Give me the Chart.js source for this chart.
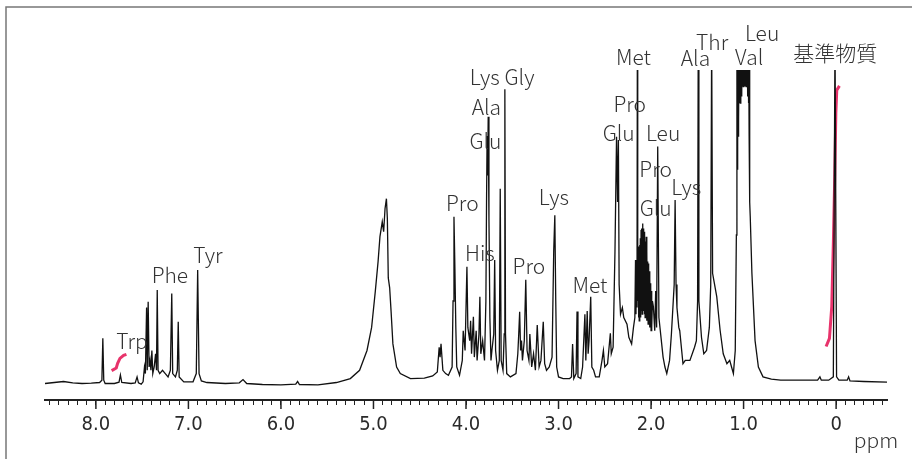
<!DOCTYPE html>
<html>
<head>
<meta charset="utf-8">
<script src="https://cdn.jsdelivr.net/npm/chart.js@4.4.1/dist/chart.umd.min.js"></script>
<style>
  html, body { margin: 0; padding: 0; background: #fff; }
  #wrap { width: 912px; height: 459px; }
</style>
</head>
<body>
<div id="wrap"><canvas id="nmr" width="912" height="459"></canvas></div>
<script>
// [ppm, intensity], left to right
const aromatic = [
  [8.55, 5.0], [8.45, 5.3], [8.35, 5.6], [8.25, 5.2], [8.15, 5.0], [8.05, 5.1],
  [7.96, 5.3], [7.935, 6], [7.925, 18.7], [7.915, 6], [7.9, 5.0], [7.8, 5.0],
  [7.75, 5.4], [7.735, 7.6], [7.72, 5.3], [7.62, 5.0], [7.575, 5.2], [7.555, 7],
  [7.54, 5.2], [7.51, 4.8], [7.49, 5.5], [7.475, 10], [7.465, 8], [7.452, 28],
  [7.445, 9], [7.435, 29.8], [7.425, 10], [7.415, 12], [7.405, 9], [7.395, 15],
  [7.385, 8], [7.37, 10], [7.355, 14], [7.345, 9], [7.337, 33.3], [7.328, 9],
  [7.31, 8], [7.28, 9], [7.25, 8], [7.22, 7], [7.195, 9], [7.18, 32.3],
  [7.17, 8], [7.14, 7], [7.12, 9], [7.11, 23.7], [7.1, 7], [7.05, 5.5],
  [6.95, 5.5], [6.915, 8], [6.9, 39.4], [6.885, 8], [6.86, 5.8], [6.8, 5.3],
  [6.6, 5.0], [6.45, 5.2], [6.41, 6.2], [6.37, 5.0], [6.2, 4.7], [6.0, 4.6],
  [5.84, 4.8], [5.82, 5.6], [5.8, 4.7], [5.6, 4.6]
];
const water = [
  [5.4, 5.3], [5.25, 6.5], [5.15, 9], [5.07, 15], [5.02, 22], [4.98, 33],
  [4.95, 42], [4.93, 49.5], [4.905, 54], [4.89, 51], [4.875, 58], [4.86, 61],
  [4.85, 55], [4.84, 37], [4.825, 34], [4.81, 27], [4.79, 17], [4.75, 10],
  [4.71, 8], [4.6, 6.5], [4.45, 6.6], [4.36, 7.3]
];
const aliphatic = [
  [4.31, 8.5], [4.29, 16], [4.28, 13], [4.27, 17], [4.25, 9], [4.22, 8],
  [4.19, 7.5], [4.15, 10], [4.14, 30], [4.13, 55.5], [4.12, 40], [4.11, 22],
  [4.1, 10], [4.07, 7.5], [4.04, 12], [4.03, 21], [4.01, 15], [3.99, 40.4],
  [3.98, 22], [3.96, 18], [3.95, 24], [3.94, 14], [3.92, 25.2], [3.91, 13],
  [3.89, 21], [3.88, 12], [3.86, 20], [3.85, 31.3], [3.84, 14], [3.82, 18],
  [3.8, 12], [3.785, 30], [3.778, 60], [3.772, 80], [3.766, 68], [3.76, 85.8],
  [3.752, 55], [3.742, 25], [3.73, 12], [3.72, 15], [3.7, 20], [3.69, 42.4],
  [3.68, 15], [3.66, 9], [3.64, 12], [3.63, 64], [3.62, 12], [3.6, 9],
  [3.587, 20], [3.58, 94.2], [3.573, 20], [3.56, 8], [3.52, 7], [3.46, 8],
  [3.44, 14], [3.43, 20], [3.42, 26.7], [3.41, 15], [3.4, 18], [3.39, 12],
  [3.37, 18], [3.354, 36.4], [3.34, 15], [3.32, 12], [3.31, 20], [3.29, 10],
  [3.27, 14], [3.25, 9], [3.23, 22.7], [3.21, 10], [3.19, 12], [3.165, 23.7],
  [3.15, 11], [3.13, 9], [3.1, 10], [3.07, 13], [3.052, 45], [3.04, 56],
  [3.03, 30], [3.02, 10], [3.0, 7], [2.95, 6.5], [2.88, 6.5], [2.86, 7],
  [2.848, 17], [2.835, 6.5], [2.81, 8], [2.8, 26.8], [2.79, 7], [2.76, 6.5],
  [2.74, 10], [2.715, 26], [2.705, 12], [2.69, 27], [2.68, 14], [2.67, 18],
  [2.652, 31.3], [2.64, 10], [2.62, 9], [2.6, 7], [2.56, 7], [2.53, 12],
  [2.515, 15], [2.5, 10], [2.47, 11], [2.44, 20.2], [2.43, 14], [2.41, 16],
  [2.39, 45], [2.373, 79.8], [2.362, 60], [2.353, 78.8], [2.345, 35], [2.33, 26],
  [2.31, 28], [2.295, 25], [2.26, 23], [2.24, 19], [2.21, 17], [2.19, 22],
  [2.175, 25], [2.168, 42.4], [2.163, 26], [2.158, 40], [2.152, 28], [2.148, 110],
  [2.144, 30], [2.14, 46.5], [2.136, 25], [2.132, 44], [2.128, 24], [2.124, 47],
  [2.12, 26], [2.116, 49], [2.112, 25], [2.108, 51.5], [2.104, 27], [2.1, 52],
  [2.096, 26], [2.092, 53.5], [2.088, 28], [2.084, 52], [2.08, 27], [2.076, 50],
  [2.072, 26], [2.068, 51], [2.064, 25], [2.06, 48], [2.056, 26], [2.052, 49.5],
  [2.048, 24], [2.044, 45], [2.04, 25], [2.036, 42], [2.032, 23], [2.028, 41.4],
  [2.024, 24], [2.02, 39], [2.016, 22], [2.012, 37], [2.008, 23], [2.004, 35.4],
  [2.0, 21], [1.996, 33], [1.99, 22], [1.985, 30], [1.975, 28.3], [1.96, 21],
  [1.95, 33], [1.94, 22], [1.928, 76.8], [1.915, 25], [1.9, 21], [1.87, 13],
  [1.85, 10], [1.83, 8], [1.8, 12], [1.78, 20], [1.76, 30], [1.75, 35],
  [1.74, 60.6], [1.73, 35], [1.72, 28], [1.7, 22], [1.69, 21], [1.655, 11],
  [1.63, 12], [1.58, 12], [1.53, 16], [1.51, 18], [1.497, 30], [1.49, 110],
  [1.483, 30], [1.455, 19], [1.43, 14], [1.4, 15], [1.37, 22], [1.355, 35],
  [1.345, 110], [1.335, 38.4], [1.32, 36], [1.29, 31.3], [1.254, 21.2], [1.22, 14],
  [1.18, 11], [1.15, 12], [1.13, 10], [1.11, 8], [1.09, 15], [1.078, 50],
  [1.072, 115], [1.068, 70], [1.064, 115], [1.06, 80], [1.056, 115], [1.052, 85],
  [1.048, 115], [1.044, 90], [1.04, 115], [1.036, 90], [1.032, 115], [1.028, 92],
  [1.024, 115], [1.02, 92], [1.016, 115], [1.012, 95], [1.008, 115], [1.004, 95],
  [1.0, 115], [0.996, 95], [0.992, 115], [0.988, 95], [0.984, 115], [0.98, 95],
  [0.976, 115], [0.972, 95], [0.968, 115], [0.964, 95], [0.96, 115], [0.956, 92],
  [0.952, 115], [0.948, 90], [0.944, 115], [0.94, 80], [0.936, 110], [0.932, 60],
  [0.928, 55.5], [0.91, 38.4], [0.876, 18], [0.84, 10], [0.79, 7], [0.7, 6.3],
  [0.6, 6], [0.4, 6], [0.2, 6], [0.175, 7], [0.16, 6], [0.08, 6],
  [0.03, 7], [0.012, 110], [-0.005, 7], [-0.03, 6], [-0.12, 6], [-0.135, 7],
  [-0.15, 5.8], [-0.3, 5.6], [-0.55, 5.4]
];
// integral traces (red)
const integralTrp = [[7.83, 8.9], [7.78, 9.7], [7.765, 11.1], [7.74, 12.6], [7.70, 13.5], [7.67, 13.8]];
const integralRef = [[0.108, 16.2], [0.072, 18.7], [0.047, 28.3], [0.029, 48.5], [0.014, 68.7], [0.003, 86.9], [-0.007, 93.9], [-0.036, 95.2]];

// peak assignments: text, ppm, height
const peakLabels = ['Trp', 'Phe', 'Tyr', 'Pro', 'His', 'Pro', 'Lys', 'Met', 'Lys Gly', 'Ala', 'Glu',
  'Met', 'Pro', 'Glu', 'Leu', 'Pro', 'Glu', 'Lys', 'Ala', 'Thr', 'Leu', 'Val', '基準物質'];
const peakLabelPpm = [7.61, 7.20, 6.79, 4.04, 3.85, 3.32, 3.05, 2.66, 3.61, 3.78, 3.79,
  2.19, 2.23, 2.35, 1.87, 1.95, 1.95, 1.62, 1.52, 1.34, 0.80, 0.94, 0.01];
const peakLabelLevel = [17.9, 37.9, 43.9, 59.7, 44.5, 40.6, 61.5, 34.8, 97.9, 88.8, 78.5,
  103.9, 89.7, 80.9, 80.9, 70, 58.2, 64.5, 103.6, 108.5, 111.2, 103.8, 105];

const toXY = (pts) => pts.map(([x, y]) => ({ x, y }));
const spectrum = toXY([...aromatic, ...water, ...aliphatic]);

const labelPlugin = {
  id: 'peakLabels',
  afterDraw(chart) {
    const { ctx, scales: { x, y } } = chart;
    ctx.save();
    ctx.fillStyle = '#333';
    ctx.textAlign = 'center';
    ctx.textBaseline = 'middle';
    ctx.font = '300 21px "Noto Sans CJK JP", "Noto Sans", sans-serif';
    peakLabels.forEach((t, i) => {
      ctx.fillText(t, x.getPixelForValue(peakLabelPpm[i]), y.getPixelForValue(peakLabelLevel[i]));
    });
    ctx.fillText('ppm', x.right - 11, x.top + 40);

    // longer ticks on whole ppm values
    ctx.strokeStyle = '#222';
    ctx.lineWidth = 1.5;
    x.ticks.forEach((tk) => {
      if (Math.abs(tk.value - Math.round(tk.value)) < 1e-6) {
        const px = x.getPixelForValue(tk.value);
        ctx.beginPath();
        ctx.moveTo(px, x.top);
        ctx.lineTo(px, x.top + 9);
        ctx.stroke();
      }
    });

    // frame
    ctx.strokeStyle = '#777';
    ctx.lineWidth = 1.5;
    ctx.beginPath();
    ctx.moveTo(6, 459);
    ctx.lineTo(6, 7);
    ctx.lineTo(912, 7);
    ctx.stroke();
    ctx.restore();
  }
};

new Chart(document.getElementById('nmr'), {
  type: 'line',
  data: {
    datasets: [
      { data: spectrum, borderColor: '#111', borderWidth: 1.3 },
      { data: toXY(integralTrp), borderColor: '#e8336b', borderWidth: 3 },
      { data: toXY(integralRef), borderColor: '#e8336b', borderWidth: 3 }
    ]
  },
  options: {
    responsive: false,
    animation: false,
    devicePixelRatio: 1,
    parsing: false,
    elements: { point: { radius: 0 }, line: { tension: 0 } },
    layout: { padding: { left: 45, right: 25, top: 70, bottom: 0 } },
    plugins: { legend: { display: false }, tooltip: { enabled: false } },
    scales: {
      x: {
        type: 'linear',
        reverse: true,
        min: -0.55,
        max: 8.55,
        afterBuildTicks: (scale) => {
          const t = [];
          for (let i = Math.ceil(scale.min * 10); i <= Math.floor(scale.max * 10); i++) t.push({ value: i / 10 });
          scale.ticks = t;
        },
        afterFit: (scale) => { scale.height = 59; },
        ticks: {
          autoSkip: false,
          maxRotation: 0,
          padding: 8,
          color: '#2a2a2a',
          font: { family: '"DejaVu Sans Condensed", sans-serif', size: 20 },
          callback: (v) => {
            const r = Math.round(v * 10);
            if (r % 10 !== 0) return '';
            return r === 0 ? '0' : (r / 10).toFixed(1);
          }
        },
        grid: { drawOnChartArea: false, tickLength: 5, tickColor: '#222', tickWidth: 1 },
        border: { color: '#222', width: 2 }
      },
      y: { display: false, min: 0, max: 100 }
    }
  },
  plugins: [labelPlugin]
});
</script>
</body>
</html>
